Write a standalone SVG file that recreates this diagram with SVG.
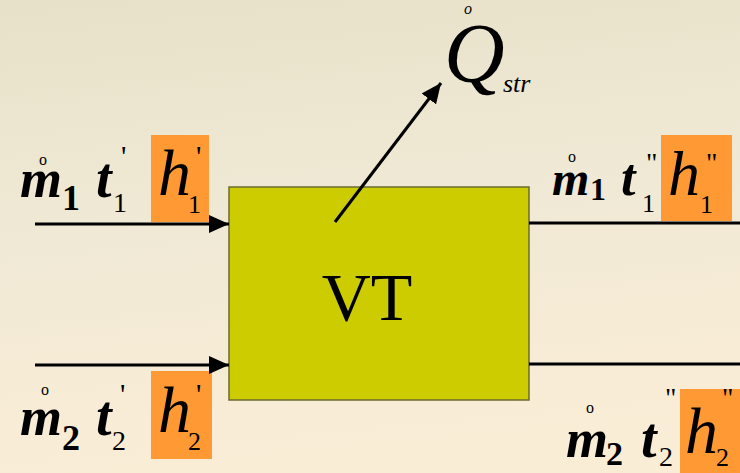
<svg xmlns="http://www.w3.org/2000/svg" width="740" height="473" viewBox="0 0 740 473">
<defs>
<linearGradient id="bg" x1="0" y1="0" x2="0.15" y2="1">
<stop offset="0" stop-color="#e8e1c9"/>
<stop offset="0.5" stop-color="#f0e9d5"/>
<stop offset="1" stop-color="#faedd6"/>
</linearGradient>
<marker id="ah" markerUnits="userSpaceOnUse" markerWidth="20" markerHeight="18" viewBox="0 0 20 18" refX="20" refY="9" orient="auto">
<path d="M0,0 L20,9 L0,18 Z" fill="#000"/>
</marker>
<style>
text{font-family:"Liberation Serif","Times New Roman",serif;fill:#000}
.bi{font-weight:bold;font-style:italic}
.b{font-weight:bold}
.i{font-style:italic}
.hl{fill:#ff9933}
.ln{stroke:#000;stroke-width:3;fill:none}
</style>
</defs>
<rect width="740" height="473" fill="url(#bg)"/>
<g id="VT">
<rect x="229" y="187" width="300" height="213" fill="#cccc00" stroke="#6b6b30" stroke-width="1.5"/>
<text x="367" y="320" font-size="68" text-anchor="middle">VT</text>
</g>
<g id="Qstr">
<text class="i" x="468" y="14" font-size="16" text-anchor="middle">o</text>
<text class="i" x="444" y="82" font-size="84">Q</text>
<text class="i" x="503" y="92" font-size="26">str</text>
</g>
<g id="in1">
<rect class="hl" x="151" y="135" width="58" height="87"/>
<text x="43" y="165" font-size="16" text-anchor="middle">o</text>
<text class="bi" x="20" y="197" font-size="54">m</text>
<text class="b" x="62" y="210" font-size="36">1</text>
<text class="bi" x="96" y="197" font-size="56">t</text>
<text x="113" y="212" font-size="28">1</text>
<text x="121" y="166" font-size="30">'</text>
<text class="i" x="158" y="195" font-size="66">h</text>
<text x="188" y="213" font-size="26">1</text>
<text x="196" y="166" font-size="30">'</text>
</g>
<g id="out1">
<rect class="hl" x="661" y="135" width="71" height="86"/>
<text x="572" y="162" font-size="16" text-anchor="middle">o</text>
<text class="bi" x="552" y="195" font-size="48">m</text>
<text class="b" x="590" y="200" font-size="32">1</text>
<text class="bi" x="621" y="195" font-size="52">t</text>
<text x="642" y="212" font-size="26">1</text>
<text x="646" y="172" font-size="28">"</text>
<text class="i" x="668" y="195" font-size="64">h</text>
<text x="700" y="213" font-size="26">1</text>
<text x="706" y="172" font-size="28">"</text>
</g>
<g id="in2">
<rect class="hl" x="151" y="371" width="61" height="88"/>
<text x="45" y="395" font-size="16" text-anchor="middle">o</text>
<text class="bi" x="20" y="435" font-size="54">m</text>
<text class="b" x="62" y="450" font-size="36">2</text>
<text class="bi" x="96" y="435" font-size="56">t</text>
<text x="112" y="450" font-size="28">2</text>
<text x="120" y="404" font-size="30">'</text>
<text class="i" x="158" y="432" font-size="66">h</text>
<text x="188" y="450" font-size="26">2</text>
<text x="196" y="404" font-size="30">'</text>
</g>
<g id="out2">
<rect class="hl" x="680" y="389" width="60" height="84"/>
<text x="590" y="413" font-size="16" text-anchor="middle">o</text>
<text class="bi" x="566" y="457" font-size="54">m</text>
<text class="b" x="606" y="465" font-size="34">2</text>
<text class="bi" x="641" y="457" font-size="56">t</text>
<text x="659" y="466" font-size="28">2</text>
<text x="665" y="407" font-size="28">"</text>
<text class="i" x="685" y="453" font-size="66">h</text>
<text x="716" y="466" font-size="26">2</text>
<text x="722" y="407" font-size="28">"</text>
</g>
<g id="connectors">
<line class="ln" x1="35" y1="224" x2="229" y2="224" marker-end="url(#ah)"/>
<line class="ln" x1="35" y1="365" x2="229" y2="365" marker-end="url(#ah)"/>
<line class="ln" x1="529" y1="223" x2="740" y2="223"/>
<line class="ln" x1="529" y1="364" x2="740" y2="364"/>
<line class="ln" x1="335" y1="222" x2="441" y2="83" marker-end="url(#ah)"/>
</g>
</svg>
